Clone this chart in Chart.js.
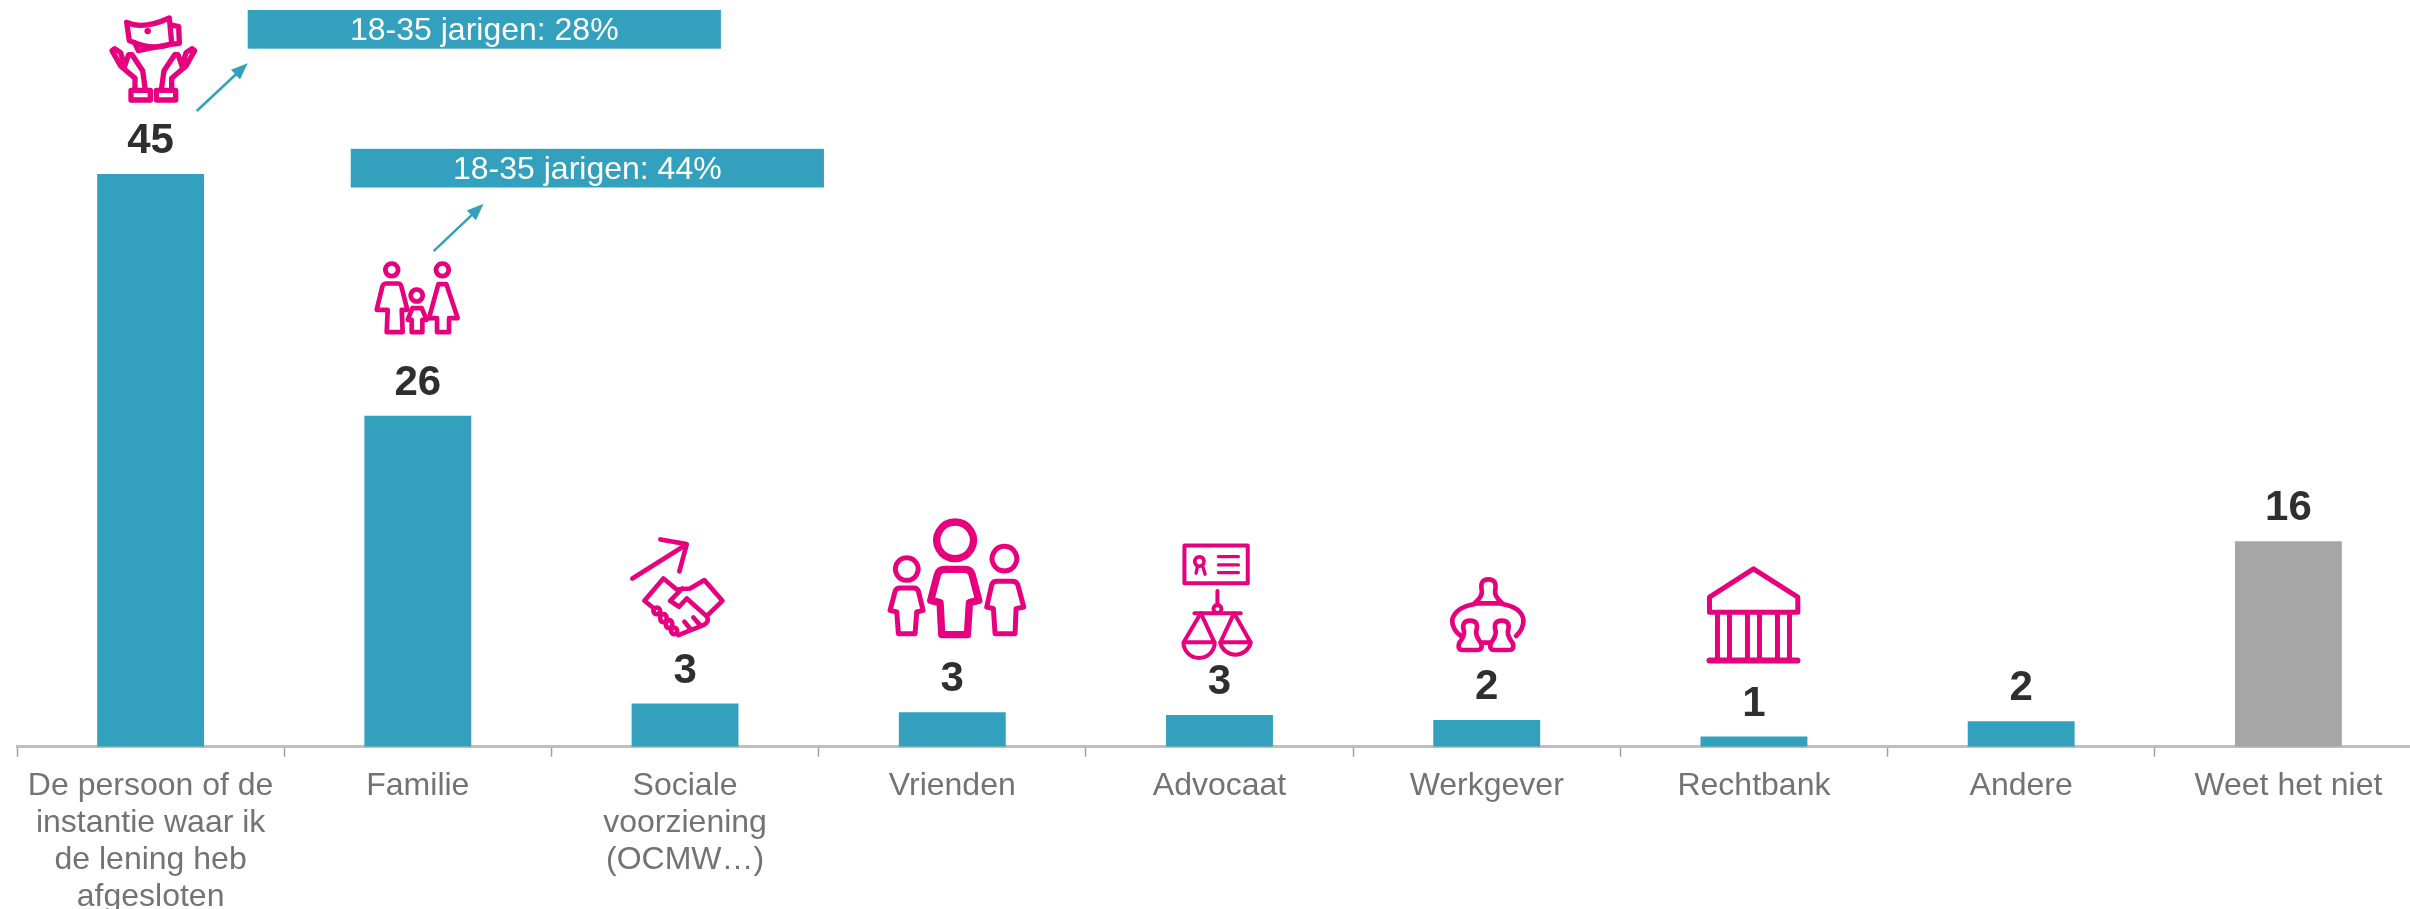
<!DOCTYPE html>
<html lang="nl">
<head>
<meta charset="utf-8">
<title>Lening</title>
<script src="https://cdn.jsdelivr.net/npm/chart.js@4/dist/chart.umd.min.js"></script>
<style>
html, body { margin: 0; padding: 0; background: #fff; width: 2410px; height: 909px; overflow: hidden; }
canvas { display: block; }
</style>
</head>
<body>
<canvas id="chart" width="2440" height="909"></canvas>
<script>
const categories = [
    ['De persoon of de', 'instantie waar ik', 'de lening heb', 'afgesloten'],
    'Familie',
    ['Sociale', 'voorziening', '(OCMW…)'],
    'Vrienden',
    'Advocaat',
    'Werkgever',
    'Rechtbank',
    'Andere',
    'Weet het niet'
];
const values = [45, 26, 3.4, 2.7, 2.5, 2.1, 0.8, 2, 16.15];
const valueLabels = ['45', '26', '3', '3', '3', '2', '1', '2', '16'];
const callouts = [
    { bar: 0, text: '18-35 jarigen: 28%' },
    { bar: 1, text: '18-35 jarigen: 44%' }
];

const TEAL = '#33a1bd';
const GREY = '#a6a6a6';
const PINK = '#e6007e';
const FONT = '"Liberation Sans", Arial, sans-serif';

// Iconen: paden in 3x-eenheden, dx/dy t.o.v. midden en top van de balk
const icons = [
    { dx: -50.6, dy: -164, w: 16, fills: ['M143,53a10,10 0 1 0 .1,0Z'], paths: [
        'M80,37 Q130,60 208,24 L215,100 Q160,125 88,92 Z',
        'M215,45 L236,50 L238,100 Q190,105 115,122 L104,98',
        'M105,240 L105,205 L62,168 L36,122 L44,116 L62,128 L74,168 M74,168 L86,134 L96,134 L128,182 L136,240',
        'M215,240 L215,205 L258,168 L284,122 L276,116 L258,128 L246,168 M246,168 L234,134 L224,134 L192,182 L184,240',
        'M93,241 H151 V270 H93 Z', 'M169,241 H227 V270 H169 Z'
    ] },
    { dx: -52.8, dy: -161, w: 14, paths: [
        'M80,26a19,19 0 1 0 .1,0Z',
        'M64,86 H98 Q107,86 109,95 L127,165 H110 L113,232 H65 L68,165 H35 L52,95 Q55,86 64,86 Z',
        'M232,26a19,19 0 1 0 .1,0Z',
        'M220,88 H244 L278,190 H252 V232 H216 V190 H192 Z',
        'M155,104a18,18 0 1 0 .1,0Z',
        'M142,160 H170 L185,195 H172 V232 H140 V195 H128 Z'
    ] },
    { dx: -60, dy: -173.3, w: 14, paths: [
        'M22,145 L183,44', 'M106,28 L185,42 L163,124',
        'M88,236 L58,212 L115,145 L155,178 L195,175 L238,150 L292,212 L245,258 L185,205 L162,230 L135,212 L172,175',
        'M245,258 Q255,275 235,285 L160,315',
        'M205,262 L225,285', 'M178,275 L195,295',
        'M95,232a10,10 0 1 0 .1,0Z', 'M115,252a10,12 0 1 0 .1,0Z',
        'M132,270a10,12 0 1 0 .1,0Z', 'M147,292a9,10 0 1 0 .1,0Z'
    ] },
    { dx: -72.2, dy: -197, w: 15, paths: [
        { d: 'M225,20a55,55 0 1 0 .1,0Z', w: 22 },
        { d: 'M195,162 H255 Q272,162 276,178 L296,255 L268,262 L262,358 H185 L180,262 L152,255 L172,178 Q176,162 195,162 Z', w: 22 },
        'M80,127a34,34 0 1 0 .1,0Z',
        'M60,218 H100 Q112,218 115,228 L129,285 L110,290 L105,355 H55 L50,290 L30,285 L45,228 Q48,218 60,218 Z',
        'M373,93a37,37 0 1 0 .1,0Z',
        'M350,198 H396 Q410,198 413,208 L431,275 L408,280 L405,355 H345 L340,280 L320,275 L335,208 Q338,198 350,198 Z'
    ] },
    { dx: -49.4, dy: -180, w: 12, paths: [
        'M43,32 H233 V145 H43 Z',
        { d: 'M88,66a14,14 0 1 0 .1,0Z', w: 11 },
        { d: 'M82,95 L78,115 M98,95 L105,118', w: 10 },
        { d: 'M145,65 H205 M145,90 H205 M145,113 H205', w: 10 },
        'M142,168 V212', 'M142,210a12,12 0 1 0 .1,0Z', 'M73,235 H212',
        'M92,235 L42,320 M92,235 L132,320 M42,322 H132 M40,322 A47,47 0 0 0 134,322 Z',
        'M192,235 L152,320 M192,235 L240,320 M152,322 H240 M150,322 A47,47 0 0 0 242,322 Z'
    ] },
    { dx: -46.6, dy: -150, w: 14, paths: [
        'M125,62 Q118,28 145,28 Q172,28 165,62 Q162,78 186,100 H104 Q128,78 125,62 Z',
        'M104,102 Q45,112 36,150 Q36,178 62,198', 'M186,102 Q245,112 250,150 Q250,178 228,198',
        'M72,185 Q62,152 90,152 Q118,152 108,185 Q108,200 122,218 Q130,240 112,240 H68 Q50,240 58,218 Q72,200 72,185 Z',
        'M167,185 Q157,152 185,152 Q213,152 203,185 Q203,200 217,218 Q225,240 207,240 H163 Q145,240 153,218 Q167,200 167,185 Z',
        'M125,218 H152'
    ] },
    { dx: -53.8, dy: -176.7, w: 15, paths: [
        'M28,112 L160,27 L293,112 L293,157 H28 Z',
        'M52,160 V295 M88,160 V295 M142,160 V295 M178,160 V295 M232,160 V295 M268,160 V295',
        { d: 'M28,302 H292', w: 18 }
    ] },
    null, null
];

// Kader met pijl per callout, t.o.v. midden en top van de balk
const calloutBoxes = [
    { x: 97.1, y: -164, w: 473.2, h: 38.7, from: [46.1, -63], to: [97.1, -110.7] },
    { x: -67.1, y: -267, w: 473.2, h: 38.7, from: [15.8, -164.7], to: [65.7, -212] }
];

const overlayPlugin = {
    id: 'overlay',
    afterDatasetsDraw(chart) {
        const { ctx } = chart;
        const bars = chart.getDatasetMeta(0).data;
        ctx.save();

        // Waardelabels boven de balken
        ctx.font = 'bold 42px ' + FONT;
        ctx.fillStyle = '#2f2f2f';
        ctx.textAlign = 'center';
        ctx.textBaseline = 'middle';
        bars.forEach((bar, i) => ctx.fillText(valueLabels[i], bar.x, bar.y - 32.5));

        // Iconen
        bars.forEach((bar, i) => {
            const icon = icons[i];
            if (!icon) return;
            ctx.save();
            ctx.translate(bar.x + icon.dx, bar.y + icon.dy);
            ctx.scale(1 / 3, 1 / 3);
            ctx.strokeStyle = PINK;
            ctx.fillStyle = PINK;
            ctx.lineJoin = 'round';
            ctx.lineCap = 'round';
            icon.paths.forEach(p => {
                ctx.lineWidth = p.w || icon.w;
                ctx.stroke(new Path2D(p.d || p));
            });
            (icon.fills || []).forEach(d => ctx.fill(new Path2D(d)));
            ctx.restore();
        });

        // Callouts
        callouts.forEach((c, i) => {
            const bar = bars[c.bar];
            const box = calloutBoxes[i];
            const bx = bar.x + box.x;
            const by = bar.y + box.y;
            ctx.fillStyle = TEAL;
            ctx.fillRect(bx, by, box.w, box.h);
            ctx.fillStyle = '#fff';
            ctx.font = '32px ' + FONT;
            ctx.fillText(c.text, bx + box.w / 2, by + box.h / 2 + 2);

            const x1 = bar.x + box.from[0], y1 = bar.y + box.from[1];
            const x2 = bar.x + box.to[0], y2 = bar.y + box.to[1];
            const a = Math.atan2(y2 - y1, x2 - x1);
            ctx.strokeStyle = TEAL;
            ctx.fillStyle = TEAL;
            ctx.lineWidth = 2.5;
            ctx.beginPath();
            ctx.moveTo(x1, y1);
            ctx.lineTo(x2 - 12 * Math.cos(a), y2 - 12 * Math.sin(a));
            ctx.stroke();
            ctx.beginPath();
            ctx.moveTo(x2, y2);
            ctx.lineTo(x2 - 18 * Math.cos(a - 0.38), y2 - 18 * Math.sin(a - 0.38));
            ctx.lineTo(x2 - 18 * Math.cos(a + 0.38), y2 - 18 * Math.sin(a + 0.38));
            ctx.closePath();
            ctx.fill();
        });
        ctx.restore();
    }
};

new Chart(document.getElementById('chart').getContext('2d'), {
    type: 'bar',
    data: {
        labels: categories,
        datasets: [{
            data: values,
            backgroundColor: values.map((v, i) => i === values.length - 1 ? GREY : TEAL),
            borderWidth: 0,
            barPercentage: 0.4,
            categoryPercentage: 1
        }]
    },
    plugins: [overlayPlugin],
    options: {
        responsive: false,
        animation: false,
        layout: { padding: { left: 17, right: 18, top: 0, bottom: 0 } },
        plugins: { legend: { display: false }, tooltip: { enabled: false } },
        scales: {
            y: { display: false, min: 0, max: 58.67 },
            x: {
                afterFit: scale => { scale.height = 162.3; },
                grid: { offset: true, drawOnChartArea: false, drawTicks: true, tickLength: 10, tickColor: '#a0a0a0', tickWidth: 1.5 },
                border: { color: '#bfbfbf', width: 3 },
                ticks: {
                    autoSkip: false,
                    maxRotation: 0,
                    padding: 11.5,
                    color: '#737373',
                    font: { family: FONT, size: 32, lineHeight: 1.15 }
                }
            }
        }
    }
});
</script>
</body>
</html>
